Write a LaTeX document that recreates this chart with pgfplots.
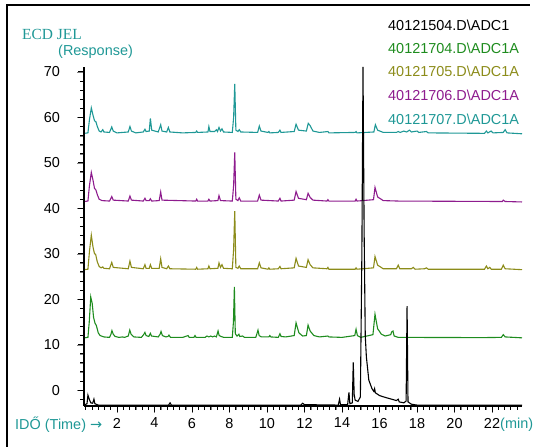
\documentclass[border=0pt]{standalone}
\usepackage{fontspec}
\setmainfont{Liberation Sans}
\newfontfamily\ecdserif{Liberation Serif}
\newfontfamily\arrowfont{DejaVu Sans}
\usepackage{pgfplots}
\pgfplotsset{compat=1.18}
\definecolor{tealc}{HTML}{1F9896}
\definecolor{greenc}{HTML}{1E8C1E}
\definecolor{olivec}{HTML}{8C8C1A}
\definecolor{purplec}{HTML}{8E1C8E}

\begin{document}
\begin{tikzpicture}
\useasboundingbox (0bp,0bp) rectangle (533bp,447bp);
\begin{axis}[at={(84bp,41bp)},anchor=south west,scale only axis,
  width=438bp,height=339bp,
  xmin=0.24,xmax=23.6,ymin=-3.5,ymax=71.1,
  axis x line*=bottom,axis y line*=left,
  xtick={2,4,...,22},ytick={0,10,...,70},
  xticklabels={2,4,6,8,10,12,14,16,18,20,22},
  yticklabels={0,10,20,30,40,50,60,70},
  minor x tick num=5,minor y tick num=4,
  tick align=outside,
  major tick length=6.5bp,minor tick length=4bp,
  font=\fontsize{14.5}{16}\selectfont,
  yticklabel style={xshift=-14bp},
  xticklabel style={yshift=-2bp},
  ]
% teal 40121707
\addplot[tealc,line width=1.1bp] coordinates {(0.25,56.5)(0.45,56.6)(0.53,59.5)(0.63,62.1)(0.72,60.5)(0.8,59.3)(0.88,59.0)(0.95,58.0)(1.05,57.0)(1.15,56.8)(1.24,57.3)(1.3,56.8)(1.6,56.7)(1.72,57.9)(1.8,57.0)(2.0,56.6)(2.3,56.7)(2.6,56.8)(2.69,58.0)(2.77,57.0)(3.0,56.6)(3.4,56.8)(3.49,57.4)(3.55,56.9)(3.72,57.0)(3.78,59.8)(3.85,57.2)(4.2,56.8)(4.33,58.4)(4.4,57.0)(4.65,56.8)(4.74,57.8)(4.82,56.8)(5.5,56.6)(6.2,56.7)(6.25,57.0)(6.3,56.7)(6.85,56.8)(6.9,58.0)(6.96,56.9)(7.2,56.9)(7.3,57.3)(7.36,56.9)(7.44,57.8)(7.52,57.0)(7.6,57.5)(7.68,56.8)(8.15,56.7)(8.22,60)(8.28,67.4)(8.34,57.2)(8.45,56.9)(8.52,57.3)(8.6,56.8)(9.5,56.7)(9.59,58.1)(9.68,57.0)(10.05,56.7)(10.1,56.9)(10.15,56.6)(10.6,56.7)(10.69,57.2)(10.75,56.7)(11.45,56.9)(11.55,58.5)(11.68,57.2)(12.1,57.0)(12.2,58.7)(12.3,58.2)(12.45,57.0)(12.8,56.7)(13.25,56.9)(13.3,56.6)(14.7,56.7)(14.75,56.9)(14.8,56.6)(15.7,56.8)(15.78,58.4)(15.9,57.2)(16.2,56.7)(16.9,56.7)(17.0,56.9)(17.1,56.7)(17.3,57.0)(17.45,56.8)(17.6,57.2)(17.7,56.8)(18.0,57.0)(18.1,56.7)(18.5,56.9)(18.6,56.6)(21.6,56.5)(21.7,57.0)(21.78,56.6)(21.95,57.0)(22.05,56.6)(22.6,56.7)(22.7,57.3)(22.8,56.6)(23.6,56.4)};
% purple 40121706
\addplot[purplec,line width=1.1bp] coordinates {(0.25,41.5)(0.45,41.6)(0.53,45.0)(0.63,47.9)(0.72,46.2)(0.8,44.4)(0.88,44.0)(0.95,43.0)(1.05,42.0)(1.2,41.7)(1.6,41.6)(1.72,42.6)(1.8,41.8)(2.6,41.6)(2.69,42.7)(2.77,41.8)(3.4,41.6)(3.49,42.2)(3.55,41.7)(3.72,41.7)(3.78,42.1)(3.85,41.6)(4.25,41.7)(4.33,43.6)(4.4,41.8)(6.2,41.6)(6.25,42.0)(6.3,41.6)(6.85,41.6)(6.9,42.0)(6.96,41.6)(7.38,41.7)(7.44,42.8)(7.52,41.7)(8.15,41.6)(8.22,45)(8.28,52.3)(8.34,42.0)(8.45,41.7)(8.52,42.3)(8.6,41.6)(9.5,41.6)(9.59,42.9)(9.68,41.8)(10.6,41.6)(10.69,42.2)(10.75,41.6)(11.45,41.8)(11.55,43.7)(11.68,42.2)(12.1,41.9)(12.19,43.3)(12.3,42.4)(12.45,41.8)(13.2,41.6)(13.25,41.9)(13.3,41.6)(14.7,41.6)(14.75,42.0)(14.8,41.6)(15.68,41.9)(15.76,44.6)(15.9,42.5)(16.2,41.7)(17.0,41.6)(22.55,41.5)(22.6,41.8)(22.7,41.5)(23.6,41.4)};
% olive 40121705
\addplot[olivec,line width=1.1bp] coordinates {(0.25,26.5)(0.45,26.6)(0.53,30.5)(0.63,34.1)(0.72,31.5)(0.8,30.0)(0.86,29.9)(0.95,28.2)(1.05,27.2)(1.15,26.9)(1.24,27.1)(1.3,26.8)(1.6,26.7)(1.72,28.1)(1.8,27.0)(2.6,26.7)(2.69,28.4)(2.77,27.0)(3.4,26.7)(3.49,27.6)(3.55,26.8)(3.72,26.8)(3.78,27.6)(3.85,26.8)(4.25,26.8)(4.33,28.9)(4.4,27.0)(4.65,26.7)(4.74,27.3)(4.82,26.7)(6.2,26.6)(6.25,27.0)(6.3,26.6)(6.85,26.7)(6.9,27.3)(6.96,26.7)(7.38,26.8)(7.44,28.0)(7.52,27.0)(7.6,27.6)(7.68,26.8)(8.15,26.7)(8.22,31)(8.28,39.4)(8.34,27.0)(8.45,26.8)(8.52,27.3)(8.6,26.7)(9.5,26.7)(9.59,28.0)(9.68,26.9)(10.05,26.6)(10.1,26.9)(10.15,26.6)(10.6,26.7)(10.69,27.2)(10.75,26.7)(11.45,26.9)(11.55,29.0)(11.68,27.3)(12.1,27.0)(12.19,28.7)(12.3,27.6)(12.45,26.9)(13.2,26.7)(13.25,27.0)(13.3,26.6)(14.7,26.6)(14.75,26.9)(14.8,26.6)(15.68,26.9)(15.76,29.4)(15.9,27.5)(16.2,26.7)(16.9,26.7)(17.0,27.5)(17.08,26.7)(17.7,26.7)(17.8,27.0)(17.9,26.6)(18.4,26.7)(18.5,26.9)(18.6,26.6)(21.6,26.6)(21.7,27.3)(21.78,26.7)(21.88,27.0)(21.96,26.6)(22.5,26.6)(22.6,27.5)(22.7,26.7)(23.6,26.5)};
% green 40121704
\addplot[greenc,line width=1.1bp] coordinates {(0.25,11.5)(0.45,11.6)(0.52,15.0)(0.6,20.5)(0.68,19.0)(0.75,16.0)(0.83,14.7)(0.9,14.2)(1.0,12.6)(1.1,12.0)(1.3,11.7)(1.6,11.6)(1.68,12.3)(1.73,13.1)(1.8,12.3)(1.9,11.8)(2.1,11.6)(2.3,11.7)(2.4,11.6)(2.6,11.9)(2.68,13.2)(2.75,12.3)(2.9,11.7)(3.3,11.6)(3.42,12.2)(3.49,12.7)(3.55,12.0)(3.7,11.8)(3.78,12.5)(3.84,11.9)(4.2,11.7)(4.3,12.3)(4.35,12.9)(4.42,12.0)(4.6,11.7)(4.72,11.8)(4.77,12.1)(4.85,11.6)(5.5,11.6)(5.79,12.0)(5.85,11.6)(6.1,11.6)(6.16,12.0)(6.22,11.6)(6.7,11.6)(6.8,11.9)(6.9,11.7)(7.0,11.9)(7.1,11.7)(7.2,11.9)(7.3,11.7)(7.39,13.0)(7.45,12.0)(7.55,11.8)(7.7,11.6)(8.15,11.6)(8.21,15.0)(8.26,22.7)(8.31,12.4)(8.4,11.9)(8.5,12.3)(8.55,11.8)(8.7,11.9)(8.8,11.6)(9.4,11.6)(9.47,12.5)(9.52,13.2)(9.58,12.0)(9.7,11.7)(10.1,11.7)(10.15,12.0)(10.2,11.7)(10.6,11.6)(10.69,12.4)(10.75,11.8)(11.0,11.7)(11.45,12.0)(11.55,14.8)(11.7,12.6)(11.9,11.9)(12.1,12.0)(12.19,14.3)(12.3,13.0)(12.5,12.0)(12.8,11.7)(13.25,11.9)(13.3,11.7)(14.0,11.6)(14.68,12.0)(14.75,13.4)(14.82,12.0)(15.0,11.6)(15.65,12.2)(15.76,16.7)(15.9,13.5)(16.1,12.3)(16.3,11.9)(16.6,12.2)(16.65,12.8)(16.72,13.0)(16.78,11.9)(17.0,11.6)(21.5,11.55)(22.5,11.6)(22.6,12.2)(22.7,11.7)(23.6,11.5)};
% black 40121504
\addplot[black,line width=1.1bp] coordinates {(0.25,-3.3)(0.4,-3.0)(0.45,-1.1)(0.52,-2.0)(0.6,-2.8)(0.7,-2.9)(0.77,-2.0)(0.82,-3.0)(1.0,-3.3)(4.75,-3.3)(4.83,-2.8)(4.9,-3.3)(11.8,-3.3)(11.9,-2.9)(12.0,-3.2)(13.8,-3.3)(13.87,-2.0)(13.92,-3.2)(14.3,-3.2)(14.37,-0.5)(14.42,-3.0)(14.55,-2.8)(14.6,6.1)(14.65,-1.0)(14.7,-2.2)(14.85,-2.5)(14.98,-1.5)(15.06,30)(15.12,71.1)(15.18,35)(15.24,12)(15.3,7.3)(15.43,2.2)(15.6,0.3)(15.7,-0.3)(15.74,0.3)(15.78,-0.6)(16.0,-1.2)(16.3,-1.6)(16.9,-2.3)(17.0,-2.0)(17.05,-2.6)(17.3,-2.8)(17.42,-2.4)(17.47,18.5)(17.52,-2.6)(17.7,-3.1)(18.0,-3.3)(23.6,-3.3)};
\end{axis}
\node[anchor=west,text=tealc,font=\ecdserif\fontsize{15.5}{17}\selectfont,inner sep=0pt] at (22bp,413bp) {ECD JEL};
\node[anchor=west,text=tealc,font=\fontsize{14.5}{16}\selectfont,inner sep=0pt] at (58bp,395bp) {(Response)};
\node[anchor=west,text=tealc,font=\fontsize{14.5}{16}\selectfont,inner sep=0pt] at (15bp,22bp) {IDŐ (Time) {\arrowfont →}};
\node[anchor=west,text=tealc,font=\fontsize{14.5}{16}\selectfont,inner sep=0pt] at (500bp,22bp) {(min)};
\node[anchor=west,text=black,font=\fontsize{14.5}{16}\selectfont,inner sep=0pt] at (388bp,422bp) {40121504.D\textbackslash ADC1};
\node[anchor=west,text=greenc,font=\fontsize{14.5}{16}\selectfont,inner sep=0pt] at (388bp,399bp) {40121704.D\textbackslash ADC1A};
\node[anchor=west,text=olivec,font=\fontsize{14.5}{16}\selectfont,inner sep=0pt] at (388bp,376bp) {40121705.D\textbackslash ADC1A};
\node[anchor=west,text=purplec,font=\fontsize{14.5}{16}\selectfont,inner sep=0pt] at (388bp,352bp) {40121706.D\textbackslash ADC1A};
\node[anchor=west,text=tealc,font=\fontsize{14.5}{16}\selectfont,inner sep=0pt] at (388bp,328bp) {40121707.D\textbackslash ADC1A};
% axis lines and ticks, drawn last
\draw[line width=2bp] (7bp,0bp) -- (7bp,442bp) -- (530bp,442bp);
\draw[black,line width=1bp] (84bp,41bp) -- (522bp,41bp);
\foreach \k in {1,...,70}{
  \pgfmathsetmacro{\xx}{84+(\k/3-0.24)*18.75}
  \pgfmathsetmacro{\tl}{ifthenelse(mod(\k,6)==0,6.5,4)}
  \draw[black,line width=0.8bp] (\xx bp,41bp) -- (\xx bp,41bp-\tl bp);
}
\fill[black] (83.2bp,40.5bp) rectangle (84.8bp,380bp);
\foreach \v in {-2,0,...,70}{
  \pgfmathsetmacro{\yy}{41+(\v+3.5)*4.54424}
  \pgfmathsetmacro{\tl}{ifthenelse(mod(\v,10)==0,6.5,4)}
  \fill[black] (84bp-\tl bp,\yy bp-0.5bp) rectangle (84bp,\yy bp+0.5bp);
}
\end{tikzpicture}
\end{document}
